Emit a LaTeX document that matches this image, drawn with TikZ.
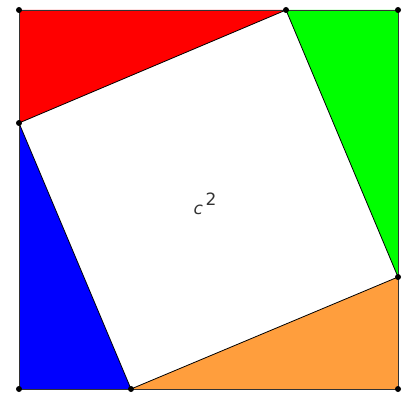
\documentclass[tikz,border=0pt]{standalone}
\usepackage{fontspec}
\setmainfont{DejaVu Sans}
\usetikzlibrary{calc}
\definecolor{triA}{HTML}{FF0000}
\definecolor{triB}{HTML}{00FF00}
\definecolor{triC}{HTML}{FF9E3D}
\definecolor{triD}{HTML}{0000FF}
\definecolor{rim}{HTML}{333333}
\tikzset{
  pt/.style={circle, fill=black, inner sep=0pt, minimum size=6pt},
  outer/.style={draw=rim, line width=0.8pt},
  inner/.style={draw=black, line width=0.8pt},
  lbl/.style={font=\fontsize{17}{19}\selectfont, text=black!80}
}
\begin{document}
\begin{tikzpicture}[x=1pt,y=-1pt]
  \useasboundingbox (0,0) rectangle (404,396);
  % corners of the big square
  \coordinate (tl) at (19,10);
  \coordinate (tr) at (398,10);
  \coordinate (br) at (398,389);
  \coordinate (bl) at (19,389);
  % corners of the tilted square
  \coordinate (top) at (286,10);
  \coordinate (rgt) at (398,277);
  \coordinate (bot) at (131,389);
  \coordinate (lft) at (19,123);

  % four triangles
  \fill[triA] (tl) -- (top) -- (lft) -- cycle;
  \fill[triB] (top) -- (tr) -- (rgt) -- cycle;
  \fill[triC] (rgt) -- (br) -- (bot) -- cycle;
  \fill[triD] (bot) -- (bl) -- (lft) -- cycle;

  \draw[outer] (tl) -- (tr) -- (br) -- (bl) -- cycle;
  \draw[inner] (top) -- (rgt) -- (bot) -- (lft) -- cycle;

  \node[lbl] (area) at (205,204) {\textit{c}\,\raisebox{0.5em}{2}};

  % dots
  \foreach \p in {tl,tr,br,bl,top,rgt,bot,lft}
    \node[pt] (d-\p) at (\p) {};
\end{tikzpicture}
\end{document}
